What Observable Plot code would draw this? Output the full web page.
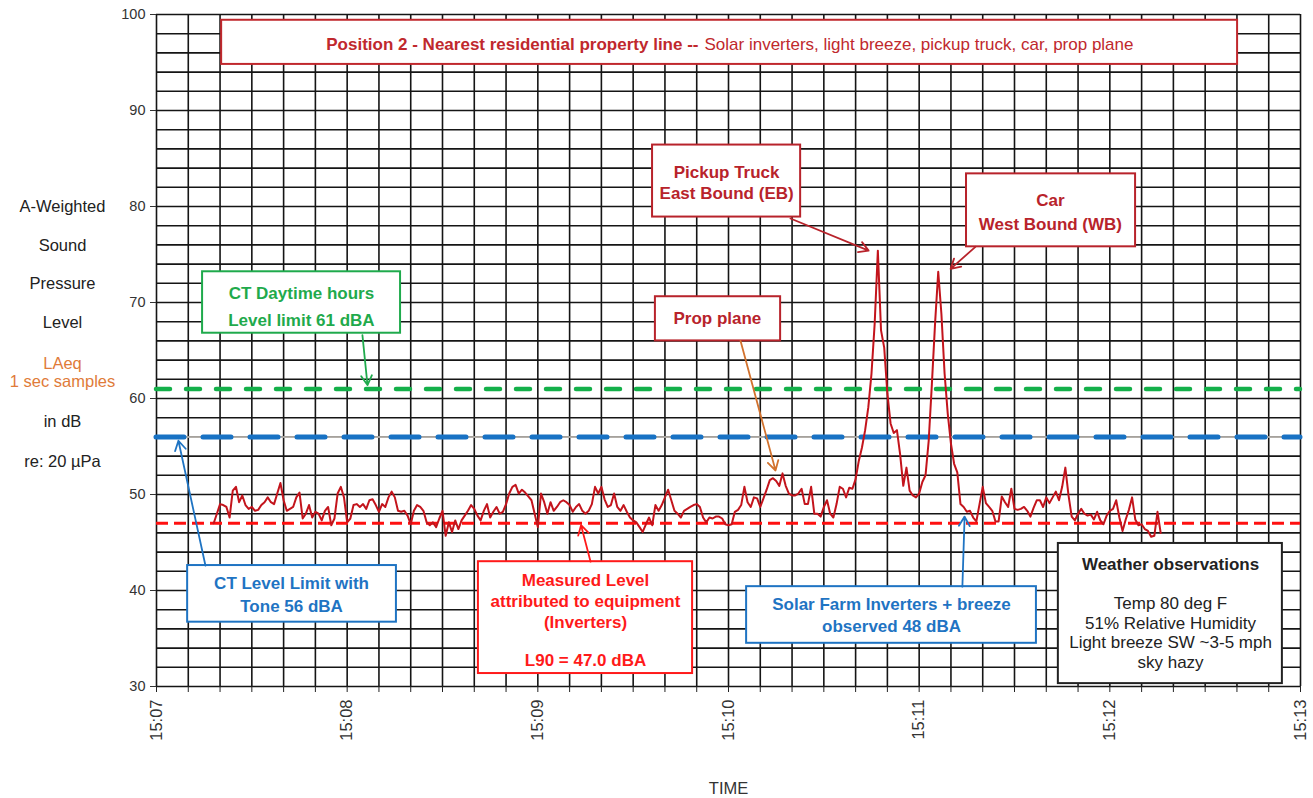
<!DOCTYPE html>
<html><head><meta charset="utf-8">
<script src="https://cdn.jsdelivr.net/npm/d3@7"></script>
<script src="https://cdn.jsdelivr.net/npm/@observablehq/plot@0.6"></script>
<style>
html,body{margin:0;padding:0;background:#fff;}
#chart{width:1313px;height:798px;}
</style></head><body><div id="chart"></div>
<script>
// ---- time helpers (seconds after 15:07:00) ----
const T0 = Date.UTC(2000, 0, 1, 15, 7, 0);
const sec = s => new Date(T0 + s * 1000);

// ---- data: LAeq 1-second samples, first sample at 15:07:18 ----
const firstSampleSecond = 18;
const levels = [
  47.0,48.0,49.0,48.9,48.7,47.6,50.4,50.8,49.2,49.9,
  48.9,48.5,48.7,48.3,48.4,48.9,49.2,49.7,49.2,49.0,
  50.1,51.2,49.4,48.3,48.5,48.7,49.7,50.2,47.5,48.0,
  48.9,47.6,48.2,48.0,47.3,48.3,48.7,46.8,47.5,50.1,
  50.8,49.7,47.1,47.5,48.9,49.0,48.7,49.0,48.5,49.4,
  49.5,48.9,48.2,49.0,48.7,49.7,50.3,49.7,48.3,48.2,
  48.3,47.8,46.9,48.3,48.9,48.7,48.3,47.1,46.8,47.1,
  46.6,47.5,48.3,45.7,47.1,46.1,47.3,46.4,
  47.3,47.8,48.3,48.9,48.5,47.8,47.3,48.3,49.0,47.6,
  48.2,48.7,48.0,48.2,49.0,50.1,50.8,51.0,50.1,50.5,
  50.2,49.8,49.4,48.0,46.6,50.1,49.2,48.0,49.2,48.3,
  48.7,49.2,49.4,49.2,48.9,48.2,48.7,49.0,48.3,48.0,
  48.3,49.0,50.8,50.1,50.8,49.5,48.7,48.9,50.1,48.7,
  48.3,48.9,48.2,47.6,47.3,47.1,46.6,46.1,46.9,47.6,
  46.8,48.9,48.3,48.9,49.7,50.5,49.4,48.3,48.0,47.6,
  48.3,48.5,48.7,48.9,49.0,48.7,47.6,47.1,
  47.6,47.5,47.7,47.7,47.5,46.9,46.8,46.9,48.2,48.4,
  48.9,50.8,49.2,48.7,49.7,49.6,48.7,49.6,50.5,51.5,
  51.7,51.4,50.9,52.2,50.9,50.1,49.9,49.9,50.1,50.6,
  49.0,49.0,50.8,48.0,48.0,47.7,48.7,49.4,48.0,47.6,
  49.0,50.8,50.6,49.7,50.7,50.6,51.6,53.5,54.9,56.7,
  59.1,62.6,67.8,75.4,67.1,65.3,60.5,57.4,56.4,56.7,
  54.2,50.9,52.8,50.4,49.9,49.7,50.1,51.3,52.0,55.6,
  61.5,67.8,73.2,68.8,62.6,58.4,55.3,53.2,52.3,49.0,
  48.7,
  48.2,48.3,47.6,47.2,49.0,50.8,49.1,48.7,48.3,47.2,
  47.2,49.8,49.2,48.7,50.6,48.5,48.4,48.5,48.7,48.3,
  47.7,48.6,49.4,49.4,48.7,49.7,49.1,49.7,50.3,49.4,
  50.8,52.8,49.9,47.7,47.3,48.0,48.5,48.0,47.8,47.9,
  47.4,48.2,47.3,46.9,47.8,48.3,48.5,49.4,47.6,46.2,
  47.4,48.4,49.7,47.4,46.8,46.9,46.4,46.2,45.6,45.7,
  48.2,46.0
];
const samples = levels.map((v, i) => ({time: sec(firstSampleSecond + i), level: v}));

// ---- axes ----
const yTickValues = [30, 40, 50, 60, 70, 80, 90, 100];
const yGridValues = d3.range(30, 101, 2);
const xTickLabels = ["15:07", "15:08", "15:09", "15:10", "15:11", "15:12", "15:13"];
const xMinuteTicks = xTickLabels.map((d, i) => sec(i * 60));
const xGridTicks = d3.range(0, 361, 10).map(sec);

// ---- reference limits ----
const limitGreen = 61;   // CT daytime limit
const limitBlue = 56;    // CT limit with tone
const l90Level = 47.0;   // measured L90

// ---- y-axis label lines ----
const yLabelLines = [
  {text: "A-Weighted", y: 80.0, color: "#222"},
  {text: "Sound", y: 75.95, color: "#222"},
  {text: "Pressure", y: 72.0, color: "#222"},
  {text: "Level", y: 67.9, color: "#222"},
  {text: "LAeq", y: 63.65, color: "#e07b39"},
  {text: "1 sec samples", y: 61.8, color: "#e07b39"},
  {text: "in dB", y: 57.6, color: "#222"},
  {text: "re: 20 µPa", y: 53.4, color: "#222"}
];

// ---- annotation boxes (time in seconds after 15:07, level in dB) ----
const boxes = [
  {t1: 20.5, t2: 340.2, y1: 99.4, y2: 94.8, color: "#c0282d"},
  {t1: 14.5, t2: 76.8, y1: 73.2, y2: 66.8, color: "#1faa4c"},
  {t1: 156.1, t2: 202.7, y1: 86.4, y2: 78.9, color: "#b8232b"},
  {t1: 254.9, t2: 308.1, y1: 83.4, y2: 75.8, color: "#b8232b"},
  {t1: 157.0, t2: 196.4, y1: 70.6, y2: 66.0, color: "#b8232b"},
  {t1: 9.8, t2: 75.5, y1: 42.6, y2: 36.7, color: "#1f74c3"},
  {t1: 101.3, t2: 168.7, y1: 43.0, y2: 31.35, color: "#ff1a1a"},
  {t1: 185.7, t2: 276.9, y1: 40.4, y2: 34.5, color: "#1f74c3"},
  {t1: 283.8, t2: 354.3, y1: 44.9, y2: 30.3, color: "#222222"}
];

const boldNotes = [
  {t: 45.6, y: 70.9, text: "CT Daytime hours", color: "#1faa4c"},
  {t: 45.6, y: 68.1, text: "Level limit 61 dBA", color: "#1faa4c"},
  {t: 179.4, y: 83.5, text: "Pickup Truck", color: "#b8232b"},
  {t: 179.4, y: 81.4, text: "East Bound (EB)", color: "#b8232b"},
  {t: 281.3, y: 80.6, text: "Car", color: "#b8232b"},
  {t: 281.3, y: 78.1, text: "West Bound (WB)", color: "#b8232b"},
  {t: 176.5, y: 68.3, text: "Prop plane", color: "#b8232b"},
  {t: 42.5, y: 40.7, text: "CT Level Limit with", color: "#1f74c3"},
  {t: 42.5, y: 38.3, text: "Tone 56 dBA", color: "#1f74c3"},
  {t: 135.0, y: 41.0, text: "Measured Level", color: "#ff1a1a"},
  {t: 135.0, y: 38.9, text: "attributed to equipment", color: "#ff1a1a"},
  {t: 135.0, y: 36.7, text: "(Inverters)", color: "#ff1a1a"},
  {t: 135.0, y: 32.7, text: "L90 = 47.0 dBA", color: "#ff1a1a"},
  {t: 231.3, y: 38.5, text: "Solar Farm Inverters + breeze", color: "#1f74c3"},
  {t: 231.3, y: 36.25, text: "observed 48 dBA", color: "#1f74c3"},
  {t: 319.1, y: 42.7, text: "Weather observations", color: "#222"}
];
const plainNotes = [
  {t: 319.1, y: 38.6, text: "Temp 80 deg F"},
  {t: 319.1, y: 36.6, text: "51% Relative Humidity"},
  {t: 319.1, y: 34.6, text: "Light breeze SW ~3-5 mph"},
  {t: 319.1, y: 32.5, text: "sky hazy"}
];
const titleBold = "Position 2 - Nearest residential property line --";
const titlePlain = "Solar inverters, light breeze, pickup truck, car, prop plane";
const titleSplit = {t: 171.5, y: 96.9};

const arrows = [
  {t1: 64.8, y1: 66.6, t2: 66.4, y2: 61.4, color: "#1faa4c"},
  {t1: 199.5, y1: 78.75, t2: 224.1, y2: 75.4, color: "#b8232b"},
  {t1: 257.7, y1: 75.8, t2: 249.9, y2: 73.5, color: "#b8232b"},
  {t1: 183.8, y1: 66.0, t2: 194.8, y2: 52.5, color: "#d2722e"},
  {t1: 15.4, y1: 42.6, t2: 6.9, y2: 55.6, color: "#1f74c3"},
  {t1: 136.6, y1: 43.0, t2: 133.6, y2: 46.8, color: "#ff1a1a"},
  {t1: 253.6, y1: 40.4, t2: 254.3, y2: 47.7, color: "#1f74c3"}
];

const FONT = "'Liberation Sans', Arial, sans-serif";
const NOTE_SIZE = 17;

const chart = Plot.plot({
  width: 1313,
  height: 798,
  marginLeft: 156,
  marginRight: 13,
  marginTop: 14,
  marginBottom: 112,
  style: {fontFamily: FONT, fontSize: "15px", background: "#fff", overflow: "visible", color: "#222"},
  x: {type: "utc", domain: [sec(0), sec(360)], axis: null},
  y: {domain: [30, 100], axis: null},
  marks: [
    Plot.gridX(xGridTicks, {stroke: "#151515", strokeOpacity: 1, strokeWidth: 1.6}),
    Plot.gridY(yGridValues, {stroke: "#151515", strokeOpacity: 1, strokeWidth: 1.6}),
    Plot.axisY({ticks: yTickValues, tickSize: 6, tickPadding: 5, fontSize: 14.5, color: "#333"}),
    Plot.axisX({ticks: xGridTicks, tickSize: 6, tickFormat: () => "", color: "#222"}),
    Plot.text(xMinuteTicks, {x: d => d, text: (d, i) => xTickLabels[i], frameAnchor: "bottom", rotate: -90,
      textAnchor: "end", lineAnchor: "middle", dy: 13, fontSize: 16.5, fill: "#333"}),
    Plot.text(["TIME"], {x: () => sec(180), frameAnchor: "bottom", dy: 107, fontSize: 16.5, fill: "#333"}),
    Plot.text(yLabelLines, {y: "y", text: "text", fill: "color", frameAnchor: "left", textAnchor: "middle",
      dx: -94, fontSize: 16.5}),
    // reference lines
    Plot.ruleY([limitGreen], {stroke: "#14b04a", strokeWidth: 4.5, strokeDasharray: "14,16", strokeLinecap: "round"}),
    Plot.ruleY([limitBlue], {stroke: "#d6d0ca", strokeWidth: 1.5}),
    Plot.ruleY([limitBlue], {stroke: "#1872c4", strokeWidth: 5, strokeDasharray: "28,19", strokeLinecap: "round"}),
    Plot.ruleY([l90Level], {stroke: "#ff1010", strokeWidth: 3, strokeDasharray: "12,6"}),
    // measured level
    Plot.line(samples, {x: "time", y: "level", stroke: "#c3141c", strokeWidth: 2}),
    // annotation boxes
    Plot.rect(boxes, {x1: d => sec(d.t1), x2: d => sec(d.t2), y1: "y1", y2: "y2", fill: "white", stroke: "color", strokeWidth: 2}),
    Plot.text(boldNotes, {x: d => sec(d.t), y: "y", text: "text", fill: "color", fontWeight: "bold", fontSize: NOTE_SIZE}),
    Plot.text(plainNotes, {x: d => sec(d.t), y: "y", text: "text", fill: "#222", fontSize: NOTE_SIZE}),
    Plot.text([titleBold], {x: () => sec(titleSplit.t), y: () => titleSplit.y, text: d => d, textAnchor: "end", dx: -3,
      fill: "#c0282d", fontWeight: "bold", fontSize: NOTE_SIZE}),
    Plot.text([titlePlain], {x: () => sec(titleSplit.t), y: () => titleSplit.y, text: d => d, textAnchor: "start", dx: 3,
      fill: "#c0282d", fontSize: NOTE_SIZE}),
    Plot.arrow(arrows, {x1: d => sec(d.t1), y1: "y1", x2: d => sec(d.t2), y2: "y2", stroke: "color", strokeWidth: 1.8, headLength: 9})
  ]
});
document.getElementById("chart").appendChild(chart);
</script>
</body></html>
